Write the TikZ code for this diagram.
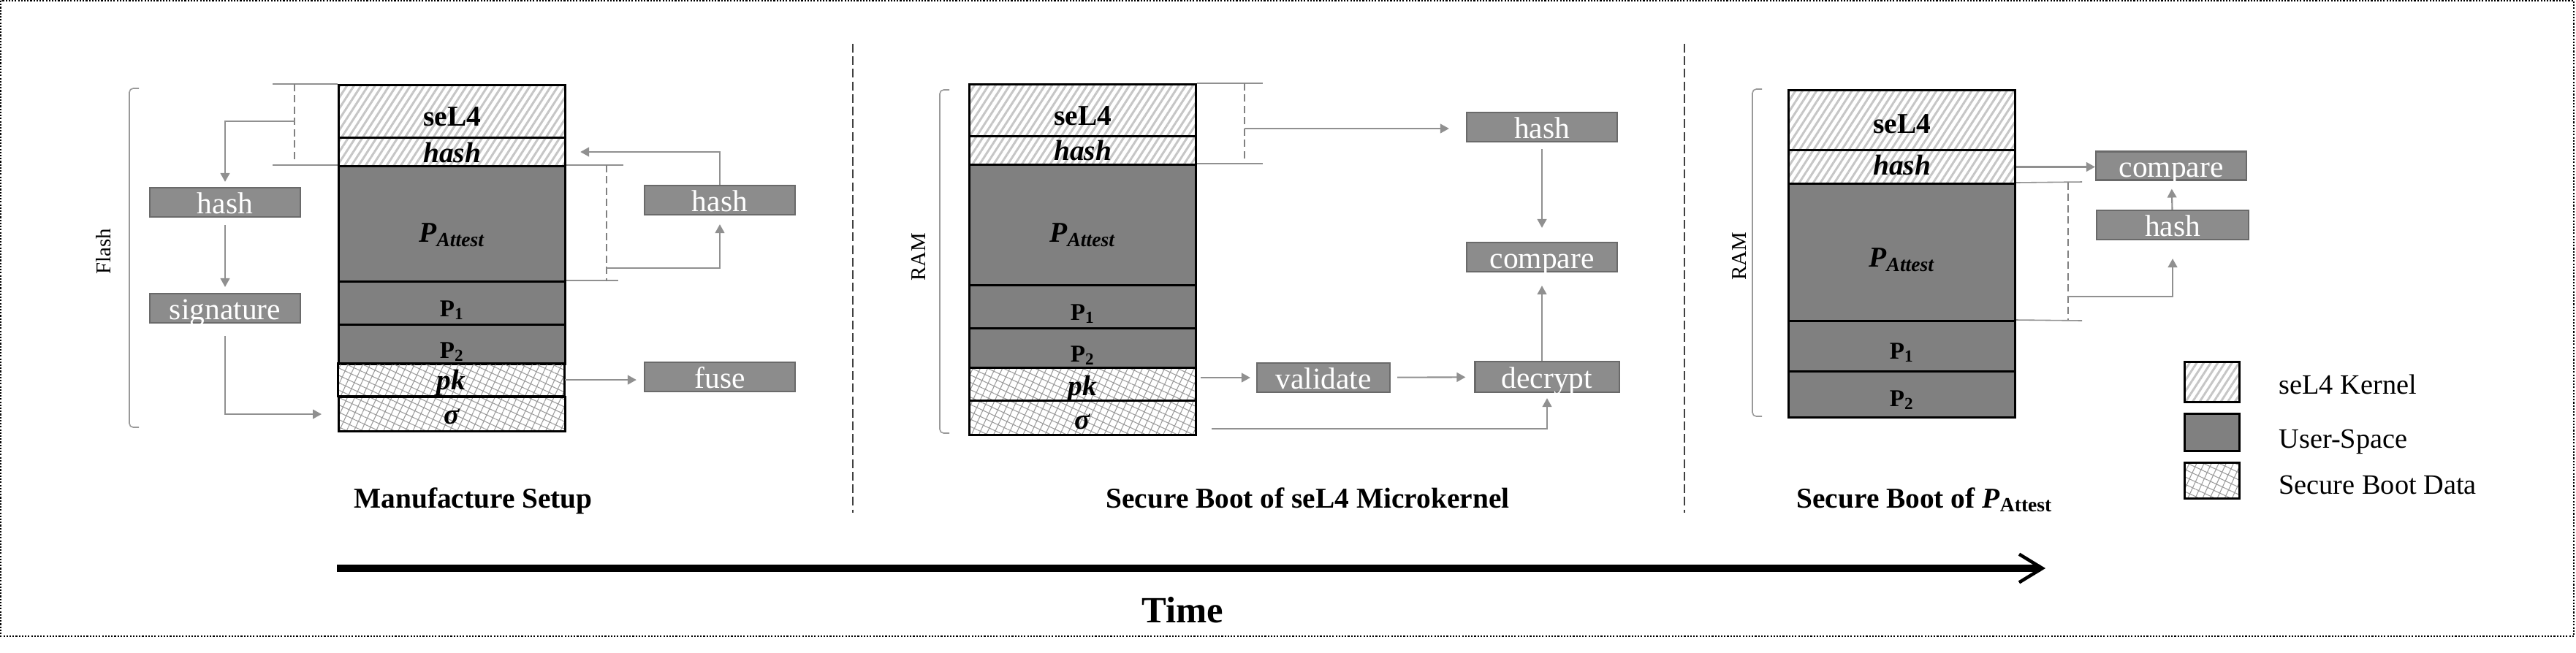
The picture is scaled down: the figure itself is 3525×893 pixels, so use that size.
\documentclass[tikz,border=0pt]{standalone}
\usepackage{fontspec}
\setmainfont{Liberation Serif}
\usepackage{xcolor}
\usepackage{tikz}
\usetikzlibrary{arrows.meta,patterns.meta}

\definecolor{usergray}{HTML}{808080}
\definecolor{procgray}{HTML}{8C8C8C}
\definecolor{procedge}{HTML}{6A6A6A}
\definecolor{flowgray}{HTML}{909090}
\definecolor{hatchgray}{HTML}{C6C6C6}
\definecolor{chaingray}{HTML}{9A9A9A}

\newcommand{\celltxt}[2]{\raisebox{-#1}[0pt][0pt]{#2}}

\tikzset{
  cell/.style={draw=black,line width=0.85pt,anchor=north west,minimum width=3.1cm,inner sep=0pt,font=\bfseries\fontsize{11.2}{13}\selectfont},
  kern/.style={cell,pattern={Lines[angle=57,distance=2.3pt,line width=0.85pt]},pattern color=hatchgray},
  user/.style={cell,fill=usergray},
  boot/.style={cell,pattern={Hatch[angle=65,distance=2.6pt,line width=0.3pt]},pattern color=chaingray},
  proc/.style={draw=procedge,fill=procgray,line width=0.6pt,text=white,minimum width=2.06cm,minimum height=0.4cm,inner sep=0pt,text height=0.3cm,text depth=0pt,font=\fontsize{11.8}{14}\selectfont},
  flow/.style={draw=flowgray,line width=0.6pt,-{Triangle[length=3.4pt,width=3.6pt]}},
  guide/.style={draw=flowgray,line width=0.45pt},
  span/.style={draw=black!50,line width=0.55pt,dash pattern=on 2.8pt off 1.6pt},
  brace/.style={draw=black!40,line width=0.45pt,rounded corners=1.5pt},
  memlabel/.style={rotate=90,font=\fontsize{8.2}{10}\selectfont},
  phase/.style={anchor=base west,font=\bfseries\fontsize{11.2}{13}\selectfont},
  divider/.style={draw=black!75,line width=0.55pt,dash pattern=on 3.4pt off 1.5pt},
  legtext/.style={anchor=base west,font=\fontsize{10.9}{13}\selectfont},
}

\begin{document}
\begin{tikzpicture}[x=0.01cm,y=-0.01cm]
  \useasboundingbox (0,0) rectangle (3525,893);
  \draw[line width=0.4pt,dash pattern=on 0.6pt off 0.6pt] (1,1) rectangle (3522,871);

  % manufacture setup: flash image
  \node[kern,minimum height=0.72cm] (ms-sel4) at (462,115) {\celltxt{0.2cm}{seL4}};
  \node[kern,minimum height=0.39cm] (ms-hash) at (462,187) {\celltxt{0.14cm}{\itshape hash}};
  \node[user,minimum height=1.58cm] (ms-pa) at (462,226) {\celltxt{0.25cm}{\itshape P\textsubscript{Attest}}};
  \node[user,minimum height=0.59cm] (ms-p1) at (462,384) {\celltxt{0.185cm}{\fontsize{9.4}{11}\selectfont P\textsubscript{1}}};
  \node[user,minimum height=0.54cm] (ms-p2) at (462,443) {\celltxt{0.19cm}{\fontsize{9.4}{11}\selectfont P\textsubscript{2}}};
  \node[boot,minimum height=0.45cm] (ms-pk) at (462,497) {\celltxt{0.13cm}{\itshape pk}};
  \node[boot,minimum height=0.47cm] (ms-sig) at (462,542) {\celltxt{0.13cm}{\itshape σ}};

  \draw[brace] (190,121) -- (177,121) -- (177,585) -- (190,585);
  \node[memlabel] (flash) at (142,344) {Flash};

  \node[proc] (mh1) at (308,277) {hash};
  \node[proc] (msig) at (308,422) {signature};
  \node[proc] (mh2) at (985,274) {hash};
  \node[proc] (mfuse) at (985,516) {fuse};

  \coordinate (la-t) at (373,115);
  \coordinate (la-b) at (373,226);
  \coordinate (la-m) at (403,166);
  \draw[guide] (ms-sel4.north west) -- (la-t);
  \draw[guide] (ms-pa.north west) -- (la-b);
  \draw[span] (403,115) -- (403,221);
  \draw[flow,shorten >=0.07cm] (la-m) -| (mh1.north);
  \draw[flow,shorten <=0.1cm,shorten >=0.08cm] (mh1) -- (msig);
  \draw[flow,shorten <=0.17cm,shorten >=0.22cm] (msig.south) |- (ms-sig.west);

  \coordinate (lb-t) at (853,226);
  \coordinate (lb-b) at (846,384);
  \coordinate (lb-m) at (830,367);
  \draw[guide] (ms-pa.north east) -- (lb-t);
  \draw[guide] (ms-p1.north east) -- (lb-b);
  \draw[span] (830,226) -- (830,385);
  \draw[flow,shorten >=0.12cm] (lb-m) -| (mh2.south);
  \draw[flow,shorten >=0.19cm] (mh2.north) |- (ms-hash.east);
  \draw[flow,shorten >=0.1cm] (ms-pk.east) -- (ms-pk.east -| mfuse.west);

  \node[phase] (t-manu) at (472,695) {Manufacture Setup};

  \draw[divider] (1167,60) -- (1167,702);

  % secure boot of the kernel: RAM image
  \node[kern,minimum height=0.71cm] (bs-sel4) at (1325,114) {\celltxt{0.2cm}{seL4}};
  \node[kern,minimum height=0.39cm] (bs-hash) at (1325,185) {\celltxt{0.135cm}{\itshape hash}};
  \node[user,minimum height=1.65cm] (bs-pa) at (1325,224) {\celltxt{0.235cm}{\itshape P\textsubscript{Attest}}};
  \node[user,minimum height=0.59cm] (bs-p1) at (1325,389) {\celltxt{0.185cm}{\fontsize{9.4}{11}\selectfont P\textsubscript{1}}};
  \node[user,minimum height=0.54cm] (bs-p2) at (1325,448) {\celltxt{0.19cm}{\fontsize{9.4}{11}\selectfont P\textsubscript{2}}};
  \node[boot,minimum height=0.45cm] (bs-pk) at (1325,502) {\celltxt{0.15cm}{\itshape pk}};
  \node[boot,minimum height=0.47cm] (bs-sig) at (1325,547) {\celltxt{0.15cm}{\itshape σ}};

  \draw[brace] (1299,123) -- (1286,123) -- (1286,593) -- (1299,593);
  \node[memlabel] (ram1) at (1257,352) {RAM};

  \node[proc] (bh) at (2110,174) {hash};
  \node[proc] (bcmp) at (2110,352) {compare};
  \node[proc,minimum width=1.82cm] (bval) at (1811,517) {validate};
  \node[proc,minimum width=1.97cm,minimum height=0.42cm] (bdec) at (2117,516) {decrypt};

  \coordinate (ba-t) at (1728,114);
  \coordinate (ba-b) at (1728,224);
  \coordinate (ba-m) at (1703,176);
  \draw[guide] (bs-sel4.north east) -- (ba-t);
  \draw[guide] (bs-pa.north east) -- (ba-b);
  \draw[span] (1703,114) -- (1703,219);
  \draw[flow,shorten >=0.23cm] (ba-m) -- (ba-m -| bh.west);
  \draw[flow,shorten <=0.09cm,shorten >=0.19cm] (bh) -- (bcmp);
  \draw[flow,shorten <=0.05cm,shorten >=0.08cm] (bs-pk.east |- bval.west) -- (bval.west);
  \draw[flow,shorten <=0.09cm,shorten >=0.12cm] (bval) -- (bdec);
  \draw[flow,shorten <=0.2cm,shorten >=0.07cm] ([yshift=-0.15cm]bs-sig.east) -| (bdec.south);
  \draw[flow,shorten >=0.18cm] (bcmp.south |- bdec.north) -- (bcmp.south);

  \node[phase] (t-kern) at (1501,695) {Secure Boot of seL4 Microkernel};

  \draw[divider] (2305,60) -- (2305,702);

  % secure boot of the attestation process
  \node[kern,minimum height=0.82cm] (rs-sel4) at (2446,122) {\celltxt{0.18cm}{seL4}};
  \node[kern,minimum height=0.46cm] (rs-hash) at (2446,204) {\celltxt{0.11cm}{\itshape hash}};
  \node[user,minimum height=1.88cm] (rs-pa) at (2446,250) {\celltxt{0.2cm}{\itshape P\textsubscript{Attest}}};
  \node[user,minimum height=0.69cm] (rs-p1) at (2446,438) {\celltxt{0.175cm}{\fontsize{9.4}{11}\selectfont P\textsubscript{1}}};
  \node[user,minimum height=0.63cm] (rs-p2) at (2446,507) {\celltxt{0.16cm}{\fontsize{9.4}{11}\selectfont P\textsubscript{2}}};

  \draw[brace] (2411,122) -- (2398,122) -- (2398,570) -- (2411,570);
  \node[memlabel] (ram2) at (2380,351) {RAM};

  \node[proc,minimum height=0.39cm] (rcmp) at (2971,227) {compare};
  \node[proc,minimum width=2.08cm] (rh) at (2973,308) {hash};

  \coordinate (ra-t) at (2849,249);
  \coordinate (ra-b) at (2849,439);
  \coordinate (ra-m) at (2830,406);
  \draw[flow] (rs-hash.east) -- (rs-hash.east -| rcmp.west);
  \draw[guide] (rs-pa.north east) -- (ra-t);
  \draw[guide] (rs-p1.north east) -- (ra-b);
  \draw[span] (2830,250) -- (2830,438);
  \draw[flow,shorten >=0.25cm] (ra-m) -| (rh.south);
  \draw[flow,shorten >=0.11cm] (rh) -- (rcmp);

  \node[phase] (t-att) at (2446,695) {Secure Boot of \textit{P}\textsubscript{Attest}};

  % legend
  \node[kern,minimum width=0.75cm,minimum height=0.55cm] (lg-kern) at (2988,494) {};
  \node[user,minimum width=0.75cm,minimum height=0.51cm] (lg-user) at (2988,565) {};
  \node[boot,minimum width=0.75cm,minimum height=0.49cm] (lg-boot) at (2988,632) {};
  \node[legtext] (lt-kern) at (3106,539) {seL4 Kernel};
  \node[legtext] (lt-user) at (3106,613) {User-Space};
  \node[legtext] (lt-boot) at (3106,676) {Secure Boot Data};

  % time axis
  \coordinate (t0) at (461,778);
  \coordinate (t1) at (2799,778);
  \draw[line width=2.65pt,-{Straight Barb[length=9pt,width=11pt,line width=1.3pt]}] (t0) -- (t1);
  \node[anchor=base,font=\bfseries\fontsize{14.4}{17}\selectfont] (time) at (1618,852) {Time};
\end{tikzpicture}
\end{document}
